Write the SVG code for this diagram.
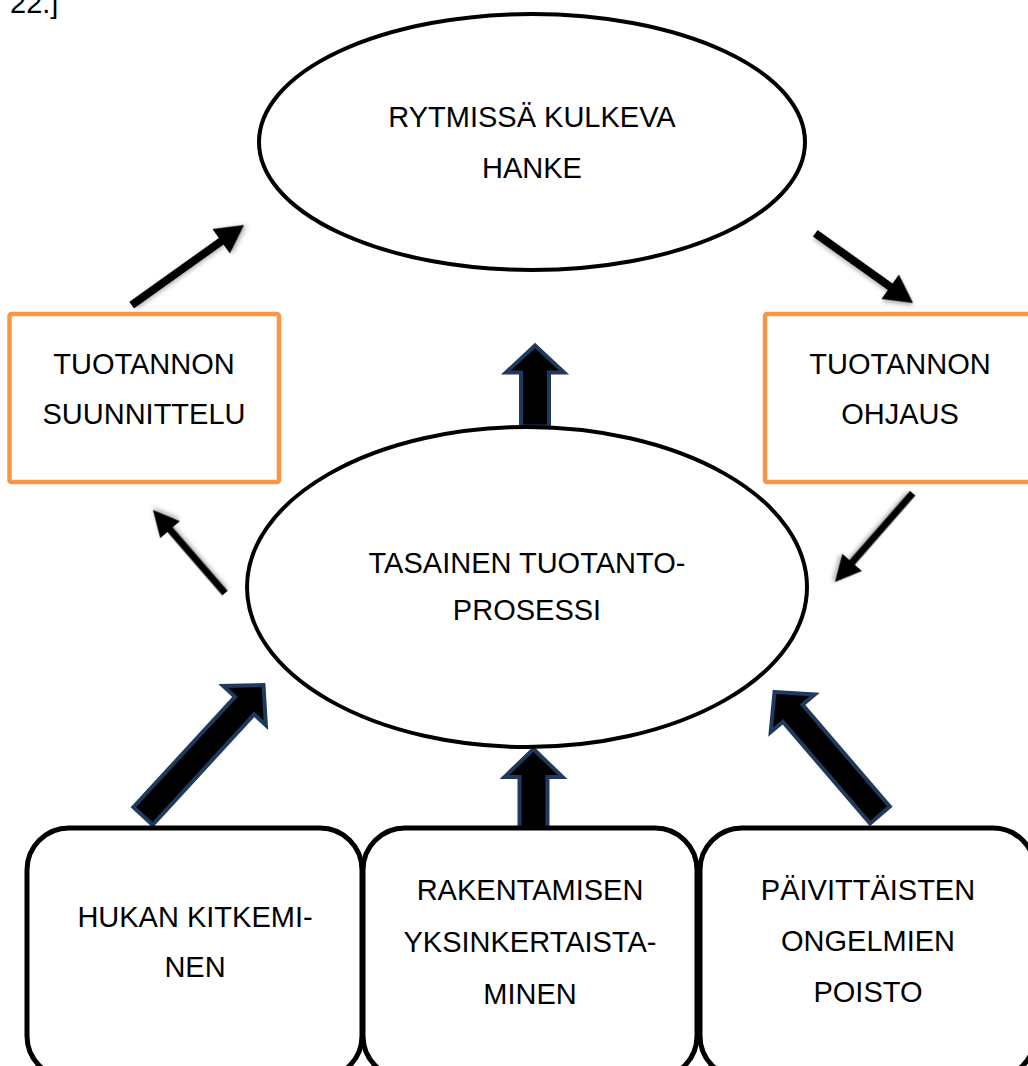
<svg xmlns="http://www.w3.org/2000/svg" width="1028" height="1066" viewBox="0 0 1028 1066">
  <style>
    text { font-family: "Liberation Sans", Arial, sans-serif; font-size: 29px; fill: #000; text-anchor: middle; }
    .ell { fill: #fff; stroke: #000; stroke-width: 4; }
    .orange { fill: #fff; stroke: #F79646; stroke-width: 4.5; }
    .round { fill: #fff; stroke: #000; stroke-width: 5; }
    .block { fill: #000; stroke: #1F3A5C; stroke-width: 4; stroke-linejoin: miter; }
    .thin { fill: #000; filter: url(#soft); }
  </style>
  <defs>
    <filter id="soft" x="-20%" y="-20%" width="140%" height="140%">
      <feDropShadow dx="2" dy="2" stdDeviation="2" flood-color="#000" flood-opacity="0.3"/>
    </filter>
  </defs>

  <text x="10" y="13" style="text-anchor:start">22.]</text>

  <!-- connectors -->
  <g id="connectors">
    <!-- thin cycle arrows (local frame: tip at origin, pointing along +x) -->
    <path class="thin" transform="translate(244,225) rotate(-35.5)" d="M0,0 L-28,-15 L-28,-4 L-138,-4 L-138,4 L-28,4 L-28,15 Z"/>
    <path class="thin" transform="translate(913,303) rotate(35.5)" d="M0,0 L-28,-15 L-28,-4 L-120,-4 L-120,4 L-28,4 L-28,15 Z"/>
    <path class="thin" transform="translate(153,510) rotate(-130.9)" d="M0,0 L-26,-13 L-26,-3.5 L-110,-3.5 L-110,3.5 L-26,3.5 L-26,13 Z"/>
    <path class="thin" transform="translate(835,582) rotate(131.2)" d="M0,0 L-26,-13 L-26,-3.5 L-118,-3.5 L-118,3.5 L-26,3.5 L-26,13 Z"/>

    <!-- block arrows (local frame: tip at origin, pointing up) -->
    <path class="block" transform="translate(535,345.5)" d="M0,0 L29,27 L14,27 L14,81 L-14,81 L-14,27 L-29,27 Z"/>
    <path class="block" transform="translate(533.5,749)" d="M0,0 L29,28 L14,28 L14,81 L-14,81 L-14,28 L-29,28 Z"/>
    <path class="block" transform="translate(263.5,685) rotate(42.6)" d="M0,0 L29,28 L13,28 L13,178 L-13,178 L-13,28 L-29,28 Z"/>
    <path class="block" transform="translate(774.5,692) rotate(-40.6)" d="M0,0 L29,28 L13,28 L13,162 L-13,162 L-13,28 L-29,28 Z"/>
  </g>

  <g id="hanke">
    <ellipse class="ell" cx="532" cy="142" rx="273" ry="128"/>
    <text x="532" y="127">RYTMISSÄ KULKEVA</text>
    <text x="532" y="178">HANKE</text>
  </g>

  <g id="suunnittelu">
    <rect class="orange" x="9.5" y="314" width="269.5" height="168" rx="2"/>
    <text x="144" y="374">TUOTANNON</text>
    <text x="144" y="424">SUUNNITTELU</text>
  </g>

  <g id="ohjaus">
    <rect class="orange" x="765" y="314" width="270" height="168" rx="2"/>
    <text x="900" y="374">TUOTANNON</text>
    <text x="900" y="424">OHJAUS</text>
  </g>

  <g id="tuotantoprosessi">
    <ellipse class="ell" cx="527" cy="587" rx="280" ry="160"/>
    <text x="527" y="573">TASAINEN TUOTANTO-</text>
    <text x="527" y="620">PROSESSI</text>
  </g>

  <g id="hukka">
    <rect class="round" x="27" y="828" width="335" height="250" rx="42"/>
    <text x="195" y="927">HUKAN KITKEMI-</text>
    <text x="195" y="977">NEN</text>
  </g>

  <g id="yksinkertaistaminen">
    <rect class="round" x="363" y="828" width="334" height="250" rx="42"/>
    <text x="530" y="900">RAKENTAMISEN</text>
    <text x="530" y="952">YKSINKERTAISTA-</text>
    <text x="530" y="1004">MINEN</text>
  </g>

  <g id="ongelmat">
    <rect class="round" x="700" y="828" width="335" height="250" rx="42"/>
    <text x="868" y="900">PÄIVITTÄISTEN</text>
    <text x="868" y="951">ONGELMIEN</text>
    <text x="868" y="1002">POISTO</text>
  </g>
</svg>
